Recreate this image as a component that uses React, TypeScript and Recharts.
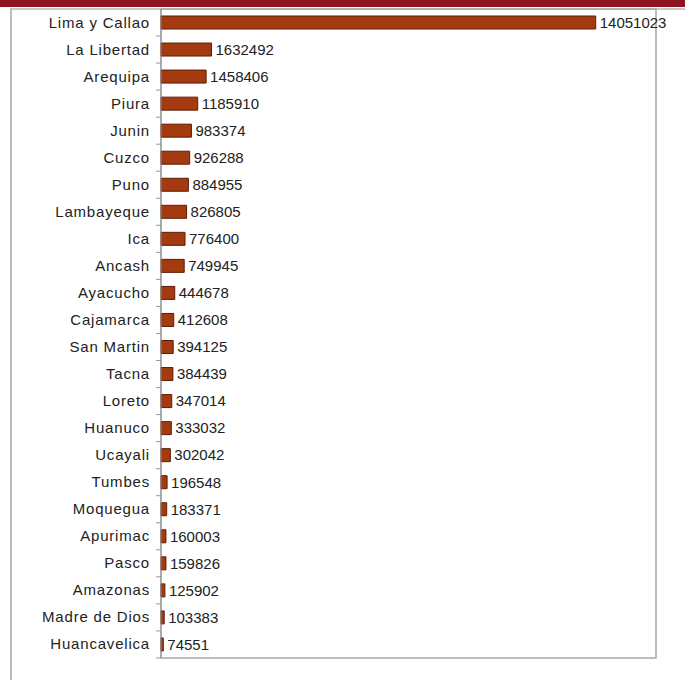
import React from 'react';
import { BarChart, Bar, XAxis, YAxis, LabelList, ReferenceArea } from 'recharts';

const regions = [
  'Lima y Callao', 'La Libertad', 'Arequipa', 'Piura', 'Junin', 'Cuzco', 'Puno',
  'Lambayeque', 'Ica', 'Ancash', 'Ayacucho', 'Cajamarca', 'San Martin', 'Tacna',
  'Loreto', 'Huanuco', 'Ucayali', 'Tumbes', 'Moquegua', 'Apurimac', 'Pasco',
  'Amazonas', 'Madre de Dios', 'Huancavelica',
];

const population = [
  14051023, 1632492, 1458406, 1185910, 983374, 926288, 884955,
  826805, 776400, 749945, 444678, 412608, 394125, 384439,
  347014, 333032, 302042, 196548, 183371, 160003, 159826,
  125902, 103383, 74551,
];

const data = regions.map((name, i) => ({ name, value: population[i] }));

const FONT = '"Liberation Sans", Arial, sans-serif';

// category label plus the small Excel-style tick sitting between categories
const CategoryTick = ({ x, y, payload }: any) => (
  <g>
    <text x={x} y={y} dy={5} textAnchor="end" fontSize={15} letterSpacing={0.8} fontFamily={FONT} fill="#222">
      {payload.value}
    </text>
    <line x1={x + 6} x2={x + 11} y1={y + 13.5} y2={y + 13.5} stroke="#999" />
  </g>
);

export default function App() {
  return (
    <div style={{ position: 'absolute', top: 0, left: 0, width: 685, height: 680, background: '#fff' }}>
      <div style={{ position: 'absolute', top: 0, left: 0, width: 685, height: 7, background: '#8e1520' }} />
      <div
        style={{
          position: 'absolute', top: 8, left: 10, width: 675, height: 672,
          borderLeft: '2px solid #bdbdbd', borderTop: '2px solid #c8c8c8',
        }}
      />
      <div style={{ position: 'absolute', top: 0, left: 0 }}>
        <BarChart
          width={685}
          height={680}
          data={data}
          layout="vertical"
          margin={{ top: 9, right: 29, bottom: 22, left: 0 }}
          barSize={13}
        >
          <XAxis type="number" domain={[0, 16000000]} hide />
          <YAxis
            type="category"
            dataKey="name"
            width={161}
            axisLine={{ stroke: '#999' }}
            tickLine={false}
            tickSize={0}
            tickMargin={11}
            tick={<CategoryTick />}
            interval={0}
          />
          <ReferenceArea x1={0} x2={16000000} fill="none" stroke="#a8a8a8" strokeWidth={1.5} />
          <Bar dataKey="value" fill="#a43a10" stroke="#5e1c06" strokeWidth={1} isAnimationActive={false}>
            <LabelList dataKey="value" position="right" offset={4} fontSize={15} fontFamily={FONT} fill="#222" />
          </Bar>
        </BarChart>
      </div>
    </div>
  );
}
